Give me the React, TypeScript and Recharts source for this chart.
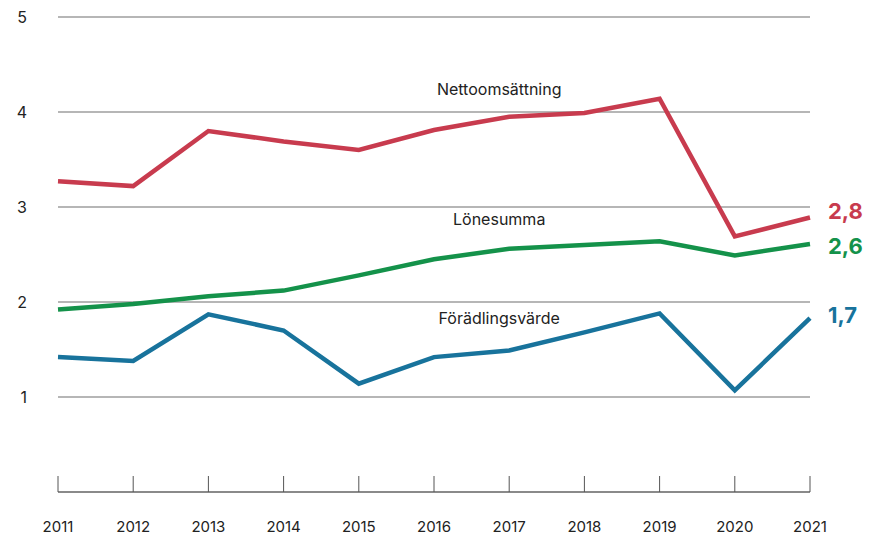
import React from "react";
import { LineChart, Line, XAxis, YAxis, CartesianGrid, LabelList, ReferenceDot } from "recharts";

const years = ["2011", "2012", "2013", "2014", "2015", "2016", "2017", "2018", "2019", "2020", "2021"];
const nettoomsattning = [3.27, 3.22, 3.8, 3.69, 3.6, 3.81, 3.95, 3.99, 4.14, 2.69, 2.89];
const lonesumma = [1.92, 1.98, 2.06, 2.12, 2.28, 2.45, 2.56, 2.6, 2.64, 2.49, 2.61];
const foradlingsvarde = [1.42, 1.38, 1.87, 1.7, 1.14, 1.42, 1.49, 1.68, 1.88, 1.07, 1.83];
const yTicks = [1, 2, 3, 4, 5];
const endLabels = { netto: "2,8", lone: "2,6", forad: "1,7" };
const seriesNames = { netto: "Nettoomsättning", lone: "Lönesumma", forad: "Förädlingsvärde" };
const nameAnchors = { year: "2017", netto: 4.245, lone: 2.877, forad: 1.835 };

const data = years.map((y, i) => ({
  year: y,
  netto: nettoomsattning[i],
  lone: lonesumma[i],
  forad: foradlingsvarde[i],
}));

const FONT = "Inter, 'Noto Sans', sans-serif";
const RED = "#c83b4e";
const GREEN = "#14924a";
const BLUE = "#18739c";

const XTick = (props: any) => {
  const { x, y, payload } = props;
  return (
    <g>
      <line x1={x} x2={x} y1={y} y2={y - 16} stroke="#555" strokeWidth={1} />
      <text x={x} y={y + 40} textAnchor="middle" fontSize={15} fill="#222" fontFamily={FONT}>
        {payload.value}
      </text>
    </g>
  );
};

const endLabel = (text: string, color: string, dy: number) => (props: any) => {
  const { x, y, index } = props;
  if (index !== years.length - 1) return null;
  return (
    <text
      x={x + 18}
      y={y + dy}
      dominantBaseline="central"
      fontSize={22}
      fontWeight={700}
      fill={color}
      fontFamily={FONT}
    >
      {text}
    </text>
  );
};

const nameLabel = (text: string) => (props: any) => {
  const { viewBox } = props;
  const cx = viewBox.x + viewBox.width / 2 - 10;
  const cy = viewBox.y + viewBox.height / 2;
  return (
    <text x={cx} y={cy} textAnchor="middle" dominantBaseline="central" fontSize={16} fill="#222" fontFamily={FONT}>
      {text}
    </text>
  );
};

export default function App() {
  return (
    <LineChart
      width={869}
      height={527}
      data={data}
      margin={{ top: 9, right: 67, bottom: 0, left: 0 }}
      style={{ fontFamily: FONT }}
    >
      <CartesianGrid vertical={false} stroke="#6e6e6e" strokeWidth={1.2} />
      <XAxis
        dataKey="year"
        height={43}
        tickSize={0}
        tickMargin={0}
        tickLine={false}
        axisLine={{ stroke: "#8a8a8a", strokeWidth: 2 }}
        tick={<XTick />}
        interval={0}
      />
      <YAxis
        domain={[0, 5]}
        ticks={yTicks}
        width={50}
        axisLine={false}
        tickLine={false}
        tickSize={0}
        tickMargin={31}
        tick={{ fontSize: 16, fill: "#222", fontFamily: FONT }}
      />
      <Line type="linear" dataKey="netto" stroke={RED} strokeWidth={4.5} dot={false} isAnimationActive={false}>
        <LabelList dataKey="netto" content={endLabel(endLabels.netto, RED, -6)} />
      </Line>
      <Line type="linear" dataKey="lone" stroke={GREEN} strokeWidth={4.5} dot={false} isAnimationActive={false}>
        <LabelList dataKey="lone" content={endLabel(endLabels.lone, GREEN, 2)} />
      </Line>
      <Line type="linear" dataKey="forad" stroke={BLUE} strokeWidth={4.5} dot={false} isAnimationActive={false}>
        <LabelList dataKey="forad" content={endLabel(endLabels.forad, BLUE, -3)} />
      </Line>
      <ReferenceDot x={nameAnchors.year} y={nameAnchors.netto} r={0} stroke="none" fill="none" label={nameLabel(seriesNames.netto)} />
      <ReferenceDot x={nameAnchors.year} y={nameAnchors.lone} r={0} stroke="none" fill="none" label={nameLabel(seriesNames.lone)} />
      <ReferenceDot x={nameAnchors.year} y={nameAnchors.forad} r={0} stroke="none" fill="none" label={nameLabel(seriesNames.forad)} />
    </LineChart>
  );
}
